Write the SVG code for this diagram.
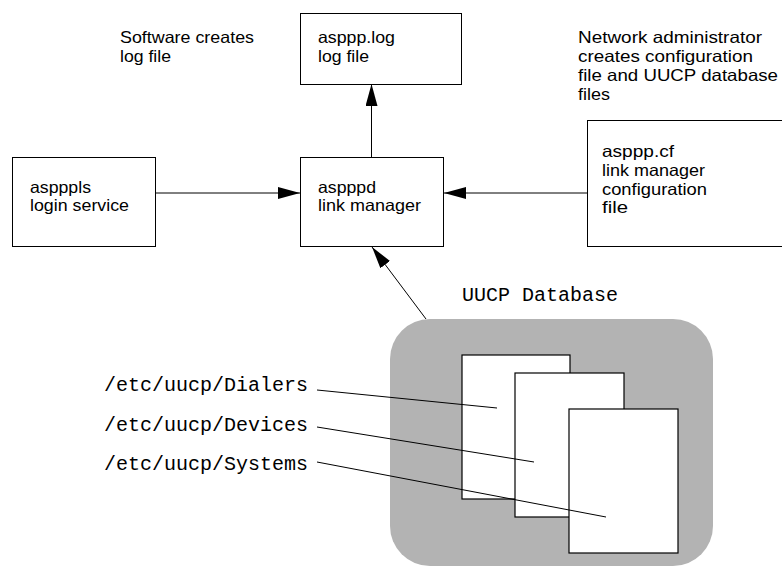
<svg xmlns="http://www.w3.org/2000/svg" width="782" height="567" viewBox="0 0 782 567">
<defs>
<style>
.box{fill:#fff;stroke:#000;stroke-width:1}
.t{font-family:"Liberation Sans",Arial,sans-serif;font-size:16.5px;fill:#000}
.m{font-family:"Liberation Mono","Courier New",monospace;font-size:20px;fill:#000}
.c{stroke:#000;stroke-width:1;fill:none}
.page{fill:#fff;stroke:#000;stroke-width:1.2}
</style>
<marker id="ah" viewBox="0 0 22 12" refX="22" refY="6" markerWidth="22" markerHeight="12" markerUnits="userSpaceOnUse" orient="auto">
<path d="M0,0 L22,6 L0,12 Z" fill="#000"/>
</marker>
</defs>
<rect width="782" height="567" fill="#fff"/>
<g id="note-software">
<text class="t" x="120" y="43" textLength="134" lengthAdjust="spacingAndGlyphs">Software creates</text>
<text class="t" x="120" y="62" textLength="51" lengthAdjust="spacingAndGlyphs">log file</text>
</g>
<g id="note-admin">
<text class="t" x="578" y="43" textLength="184" lengthAdjust="spacingAndGlyphs">Network administrator</text>
<text class="t" x="578" y="62" textLength="175" lengthAdjust="spacingAndGlyphs">creates configuration</text>
<text class="t" x="578" y="81" textLength="200" lengthAdjust="spacingAndGlyphs">file and UUCP database</text>
<text class="t" x="578" y="100" textLength="32" lengthAdjust="spacingAndGlyphs">files</text>
</g>
<g id="log">
<rect class="box" x="300.5" y="13.5" width="161" height="71"/>
<text class="t" x="318" y="43" textLength="77" lengthAdjust="spacingAndGlyphs">asppp.log</text>
<text class="t" x="318" y="62" textLength="51" lengthAdjust="spacingAndGlyphs">log file</text>
</g>
<g id="aspppls">
<rect class="box" x="12.5" y="157.5" width="143" height="89"/>
<text class="t" x="30" y="193" textLength="61" lengthAdjust="spacingAndGlyphs">aspppls</text>
<text class="t" x="30" y="211" textLength="99" lengthAdjust="spacingAndGlyphs">login service</text>
</g>
<g id="aspppd">
<rect class="box" x="300.5" y="157.5" width="143" height="89"/>
<text class="t" x="318" y="193" textLength="58" lengthAdjust="spacingAndGlyphs">aspppd</text>
<text class="t" x="318" y="211" textLength="103" lengthAdjust="spacingAndGlyphs">link manager</text>
</g>
<g id="cf">
<rect class="box" x="587.5" y="120.5" width="200" height="126"/>
<text class="t" x="602" y="157" textLength="72" lengthAdjust="spacingAndGlyphs">asppp.cf</text>
<text class="t" x="602" y="176" textLength="103" lengthAdjust="spacingAndGlyphs">link manager</text>
<text class="t" x="602" y="195" textLength="105" lengthAdjust="spacingAndGlyphs">configuration</text>
<text class="t" x="602" y="213" textLength="26" lengthAdjust="spacingAndGlyphs">file</text>
</g>
<g id="uucp">
<text class="m" x="462" y="301">UUCP Database</text>
<rect x="390" y="319" width="323" height="247" rx="40" ry="40" fill="#b3b3b3"/>
<rect class="page" x="462" y="355" width="108" height="144"/>
<rect class="page" x="515" y="373" width="109" height="144"/>
<rect class="page" x="569" y="409" width="109" height="144"/>
</g>
<g id="labels">
<text class="m" x="104" y="391">/etc/uucp/Dialers</text>
<text class="m" x="104" y="431">/etc/uucp/Devices</text>
<text class="m" x="104" y="470">/etc/uucp/Systems</text>
</g>
<g id="connectors">
<line class="c" x1="155" y1="193" x2="300" y2="193" marker-end="url(#ah)"/>
<line class="c" x1="587" y1="193" x2="444" y2="193" marker-end="url(#ah)"/>
<line class="c" x1="371.5" y1="157" x2="371.5" y2="84" marker-end="url(#ah)"/>
<line class="c" x1="426" y1="319" x2="372" y2="247" marker-end="url(#ah)"/>
<line class="c" x1="317" y1="390" x2="497" y2="408"/>
<line class="c" x1="317" y1="427" x2="534" y2="462"/>
<line class="c" x1="317" y1="462" x2="606" y2="517"/>
</g>
</svg>
